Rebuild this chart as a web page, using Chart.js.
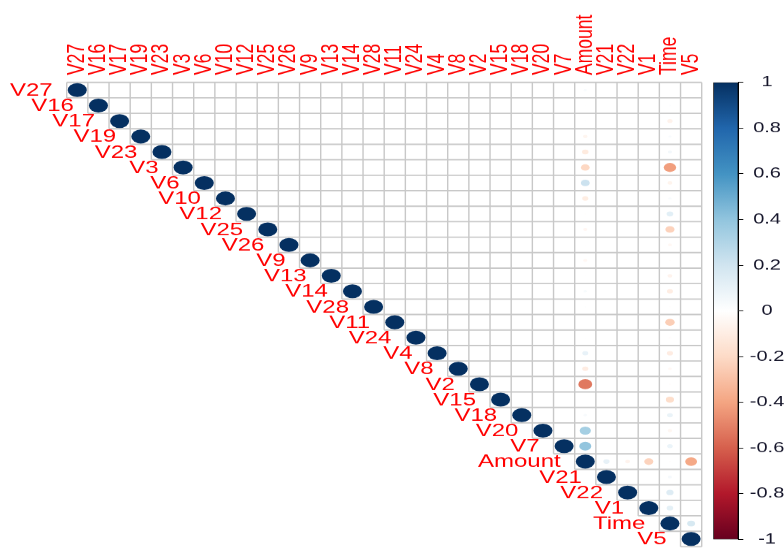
<!DOCTYPE html>
<html>
<head>
<meta charset="utf-8">
<title>Correlation plot</title>
<script src="https://cdn.jsdelivr.net/npm/chart.js@4.4.1/dist/chart.umd.min.js"></script>
<style>
    html, body { margin: 0; padding: 0; background: #ffffff; }
    #wrap { position: relative; width: 784px; height: 553px; overflow: hidden; }
    #corrChart { position: absolute; left: 0; top: 0; }
    #barChart { position: absolute; left: 705px; top: 0; }
</style>
</head>
<body>
<div id="wrap">
    <!-- drawn at a taller internal size, then squeezed vertically like the original -->
    <canvas id="corrChart" width="710" height="757" style="width:710px;height:553px"></canvas>
    <canvas id="barChart" width="79" height="757" style="width:79px;height:553px"></canvas>
</div>
<script>
// Variable order (rows top to bottom, columns left to right)
const vars = ['V27', 'V16', 'V17', 'V19', 'V23', 'V3', 'V6', 'V10', 'V12', 'V25',
              'V26', 'V9', 'V13', 'V14', 'V28', 'V11', 'V24', 'V4', 'V8', 'V2',
              'V15', 'V18', 'V20', 'V7', 'Amount', 'V21', 'V22', 'V1', 'Time', 'V5'];

// Correlation of Amount with each variable (same order as vars)
const amountCorr = [0.029, -0.004, 0.007, -0.056, -0.113, -0.211, 0.216, -0.102, -0.010, -0.048,
                    -0.003, -0.044, 0.005, 0.034, 0.010, 0.000, 0.005, 0.099, -0.103, -0.531,
                    -0.003, 0.036, 0.339, 0.397, 1, 0.106, -0.065, -0.228, -0.011, -0.386];

// Correlation of Time with each variable (same order as vars)
const timeCorr = [-0.005, 0.012, -0.073, 0.029, 0.051, -0.420, -0.063, 0.031, 0.124, -0.233,
                  -0.041, -0.009, -0.066, -0.099, -0.009, -0.248, -0.016, -0.105, -0.037, -0.011,
                  -0.184, 0.090, -0.051, 0.085, -0.011, 0.045, 0.144, 0.117, 1, 0.173];

// PCA components V1..V28 are uncorrelated with each other
const pcaCorr = 0;

// Colour bar ticks
const barTicks = [-1, -0.8, -0.6, -0.4, -0.2, 0, 0.2, 0.4, 0.6, 0.8, 1];

// RdBu palette, -1 -> 1
const rdbu = ['#67001F', '#B2182B', '#D6604D', '#F4A582', '#FDDBC7', '#FFFFFF',
              '#D1E5F0', '#92C5DE', '#4393C3', '#2166AC', '#053061'];

const labelFamily = "'Liberation Sans', Arial, sans-serif";
const labelColor = '#ff0000';

function hexToRgb(hex) {
    hex = hex.replace('#', '');
    return [0, 2, 4].map(i => parseInt(hex.substring(i, i + 2), 16));
}

function corrColor(v) {
    const t = (v + 1) / 2 * (rdbu.length - 1);
    const i = Math.min(rdbu.length - 2, Math.max(0, Math.floor(t)));
    const f = t - i;
    const a = hexToRgb(rdbu[i]);
    const b = hexToRgb(rdbu[i + 1]);
    const c = a.map((x, k) => Math.round(x + (b[k] - x) * f));
    return `rgb(${c[0]}, ${c[1]}, ${c[2]})`;
}

function corrValue(r, c) {
    const ia = vars.indexOf('Amount');
    const it = vars.indexOf('Time');
    if (r === c) return 1;
    if (c === ia) return amountCorr[r];
    if (r === ia) return amountCorr[c];
    if (c === it) return timeCorr[r];
    if (r === it) return timeCorr[c];
    return pcaCorr;
}

// upper triangle cells (category labels, so the scales place them)
const cells = [];
for (let r = 0; r < vars.length; r++) {
    for (let c = r; c < vars.length; c++) {
        const v = corrValue(r, c);
        if (v !== 0) cells.push({ x: vars[c], y: vars[r], v: v });
    }
}

/**
 * Grid lines for the upper triangle only
 */
const upperGrid = {
    id: 'upperGrid',
    beforeDatasetsDraw(chart) {
        const { ctx } = chart;
        const xs = chart.scales.x, ys = chart.scales.y;
        const n = vars.length;
        const w = Math.abs(xs.getPixelForValue(1) - xs.getPixelForValue(0));
        const h = Math.abs(ys.getPixelForValue(1) - ys.getPixelForValue(0));
        const right = xs.getPixelForValue(n - 1) + w / 2;
        const top = ys.getPixelForValue(0) - h / 2;

        ctx.save();
        ctx.strokeStyle = '#c8c8c8';

        // horizontal lines
        ctx.lineWidth = 1.9;
        ctx.beginPath();
        for (let k = 0; k <= n; k++) {
            const y = top + k * h;
            const x0 = xs.getPixelForValue(Math.max(k - 1, 0)) - w / 2;
            ctx.moveTo(x0, y);
            ctx.lineTo(right, y);
        }
        ctx.stroke();

        // vertical lines
        ctx.lineWidth = 1.4;
        ctx.beginPath();
        for (let k = 0; k <= n; k++) {
            const x = xs.getPixelForValue(Math.min(k, n - 1)) + (k === n ? w / 2 : -w / 2);
            const y1 = ys.getPixelForValue(Math.min(k, n - 1)) + h / 2;
            ctx.moveTo(x, top);
            ctx.lineTo(x, y1);
        }
        ctx.stroke();
        ctx.restore();
    }
};

/**
 * Row labels sit just left of each diagonal cell
 */
const rowLabels = {
    id: 'rowLabels',
    afterDatasetsDraw(chart) {
        const { ctx } = chart;
        const xs = chart.scales.x, ys = chart.scales.y;
        const w = Math.abs(xs.getPixelForValue(1) - xs.getPixelForValue(0));
        ctx.save();
        ctx.font = `24px ${labelFamily}`;
        ctx.fillStyle = labelColor;
        ctx.textAlign = 'right';
        ctx.textBaseline = 'middle';
        vars.forEach((name, r) => {
            ctx.fillText(name, xs.getPixelForValue(r) - w / 2 - 14, ys.getPixelForValue(r) + 1);
        });
        ctx.restore();
    }
};

new Chart(document.getElementById('corrChart'), {
    type: 'scatter',
    data: {
        datasets: [{
            data: cells,
            pointStyle: 'circle',
            borderWidth: 0,
            backgroundColor: ctx => corrColor(ctx.raw ? ctx.raw.v : 0),
            radius: ctx => {
                const area = ctx.chart.chartArea;
                if (!area || !ctx.raw) return 0;
                const cellW = (area.right - area.left) / vars.length;
                return 0.45 * Math.sqrt(Math.abs(ctx.raw.v)) * cellW;
            }
        }]
    },
    options: {
        responsive: false,
        devicePixelRatio: 1,
        animation: false,
        events: [],
        layout: {
            padding: { left: 66.7, right: 8.3, top: 0, bottom: 8.6 }
        },
        plugins: {
            legend: { display: false },
            tooltip: { enabled: false }
        },
        scales: {
            x: {
                type: 'category',
                labels: vars,
                position: 'top',
                offset: true,
                grid: { display: false, drawTicks: false },
                border: { display: false },
                ticks: {
                    autoSkip: false,
                    minRotation: 90,
                    maxRotation: 90,
                    padding: 10,
                    color: labelColor,
                    // tiny line height keeps rotated labels centred on their column
                    font: { family: labelFamily, size: 24, lineHeight: 0.01 }
                },
                afterFit: scale => { scale.height = 112.7; }
            },
            y: {
                type: 'category',
                labels: vars,
                offset: true,
                display: false
            }
        }
    },
    plugins: [upperGrid, rowLabels]
});

/**
 * Colour legend bar
 */
new Chart(document.getElementById('barChart'), {
    type: 'bar',
    data: {
        labels: [''],
        datasets: [{
            data: [[barTicks[0], barTicks[barTicks.length - 1]]],
            barPercentage: 1,
            categoryPercentage: 1,
            borderWidth: 1,
            borderColor: '#000000',
            borderSkipped: false,
            backgroundColor: ctx => {
                const area = ctx.chart.chartArea;
                if (!area) return rdbu[0];
                const g = ctx.chart.ctx.createLinearGradient(0, area.bottom, 0, area.top);
                rdbu.forEach((col, i) => g.addColorStop(i / (rdbu.length - 1), col));
                return g;
            }
        }]
    },
    options: {
        responsive: false,
        devicePixelRatio: 1,
        animation: false,
        events: [],
        layout: {
            padding: { left: 8.3, right: 0, top: 112.7, bottom: 9.6 }
        },
        plugins: {
            legend: { display: false },
            tooltip: { enabled: false }
        },
        scales: {
            x: { display: false },
            y: {
                position: 'right',
                min: barTicks[0],
                max: barTicks[barTicks.length - 1],
                afterBuildTicks: scale => {
                    scale.ticks = barTicks.map(v => ({ value: v }));
                },
                grid: {
                    drawOnChartArea: false,
                    tickLength: 5,
                    color: '#000000',
                    lineWidth: 1
                },
                border: { display: true, color: '#000000' },
                ticks: {
                    crossAlign: 'center',
                    padding: 6.5,
                    color: '#15152a',
                    font: { family: labelFamily, size: 20 },
                    callback: v => String(Math.round(v * 10) / 10)
                },
                afterFit: scale => { scale.width = 45.7; }
            }
        }
    }
});
</script>
</body>
</html>
